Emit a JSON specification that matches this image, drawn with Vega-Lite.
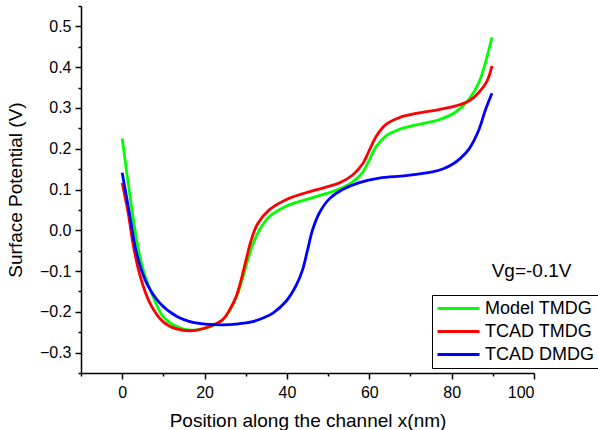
{
  "$schema": "https://vega.github.io/schema/vega-lite/v6.json",
  "width": 453,
  "height": 367,
  "autosize": "none",
  "padding": {"left": 81, "top": 6, "right": 64, "bottom": 57},
  "background": "white",
  "config": {
    "view": {"stroke": null},
    "font": "Liberation Sans",
    "axis": {
      "grid": false,
      "domainColor": "black",
      "domainWidth": 1.5,
      "tickColor": "black",
      "tickWidth": 1.5,
      "labelColor": "black",
      "labelFontSize": 16,
      "titleColor": "black",
      "titleFontSize": 19,
      "titleFontWeight": "normal"
    }
  },
  "resolve": {"axis": {"x": "independent", "y": "independent"}},
  "layer": [
    {
      "data": {
        "values": [
          {"series": "Model TMDG", "x": 0, "y": 0.225},
          {"series": "Model TMDG", "x": 1, "y": 0.15},
          {"series": "Model TMDG", "x": 1.9, "y": 0.084},
          {"series": "Model TMDG", "x": 3.5, "y": -0.023},
          {"series": "Model TMDG", "x": 5.1, "y": -0.097},
          {"series": "Model TMDG", "x": 7.5, "y": -0.162},
          {"series": "Model TMDG", "x": 9.9, "y": -0.211},
          {"series": "Model TMDG", "x": 13.2, "y": -0.236},
          {"series": "Model TMDG", "x": 16.4, "y": -0.245},
          {"series": "Model TMDG", "x": 19, "y": -0.243},
          {"series": "Model TMDG", "x": 21.2, "y": -0.237},
          {"series": "Model TMDG", "x": 24.5, "y": -0.219},
          {"series": "Model TMDG", "x": 26.1, "y": -0.197},
          {"series": "Model TMDG", "x": 27.7, "y": -0.165},
          {"series": "Model TMDG", "x": 29, "y": -0.126},
          {"series": "Model TMDG", "x": 30.3, "y": -0.08},
          {"series": "Model TMDG", "x": 31.7, "y": -0.035},
          {"series": "Model TMDG", "x": 33.3, "y": 0.0},
          {"series": "Model TMDG", "x": 35.7, "y": 0.033},
          {"series": "Model TMDG", "x": 39.8, "y": 0.059},
          {"series": "Model TMDG", "x": 44.6, "y": 0.075},
          {"series": "Model TMDG", "x": 49.5, "y": 0.09},
          {"series": "Model TMDG", "x": 52.7, "y": 0.101},
          {"series": "Model TMDG", "x": 55.9, "y": 0.118},
          {"series": "Model TMDG", "x": 58.4, "y": 0.142},
          {"series": "Model TMDG", "x": 60, "y": 0.172},
          {"series": "Model TMDG", "x": 61.6, "y": 0.204},
          {"series": "Model TMDG", "x": 64, "y": 0.231},
          {"series": "Model TMDG", "x": 67.2, "y": 0.247},
          {"series": "Model TMDG", "x": 72.1, "y": 0.26},
          {"series": "Model TMDG", "x": 76.9, "y": 0.271},
          {"series": "Model TMDG", "x": 81, "y": 0.29},
          {"series": "Model TMDG", "x": 84.2, "y": 0.321},
          {"series": "Model TMDG", "x": 86.6, "y": 0.362},
          {"series": "Model TMDG", "x": 88.2, "y": 0.411},
          {"series": "Model TMDG", "x": 89.8, "y": 0.473},
          {"series": "TCAD TMDG", "x": 0, "y": 0.116},
          {"series": "TCAD TMDG", "x": 1.45, "y": 0.043},
          {"series": "TCAD TMDG", "x": 2.7, "y": -0.037},
          {"series": "TCAD TMDG", "x": 4.3, "y": -0.11},
          {"series": "TCAD TMDG", "x": 6.7, "y": -0.178},
          {"series": "TCAD TMDG", "x": 9.9, "y": -0.224},
          {"series": "TCAD TMDG", "x": 13.2, "y": -0.242},
          {"series": "TCAD TMDG", "x": 17.2, "y": -0.246},
          {"series": "TCAD TMDG", "x": 21.2, "y": -0.236},
          {"series": "TCAD TMDG", "x": 24.5, "y": -0.218},
          {"series": "TCAD TMDG", "x": 26.1, "y": -0.195},
          {"series": "TCAD TMDG", "x": 27.7, "y": -0.162},
          {"series": "TCAD TMDG", "x": 28.9, "y": -0.121},
          {"series": "TCAD TMDG", "x": 30.1, "y": -0.072},
          {"series": "TCAD TMDG", "x": 31.3, "y": -0.025},
          {"series": "TCAD TMDG", "x": 32.9, "y": 0.016},
          {"series": "TCAD TMDG", "x": 35.7, "y": 0.05},
          {"series": "TCAD TMDG", "x": 39.8, "y": 0.075},
          {"series": "TCAD TMDG", "x": 44.6, "y": 0.092},
          {"series": "TCAD TMDG", "x": 49.5, "y": 0.106},
          {"series": "TCAD TMDG", "x": 52.7, "y": 0.116},
          {"series": "TCAD TMDG", "x": 55.9, "y": 0.135},
          {"series": "TCAD TMDG", "x": 58.4, "y": 0.163},
          {"series": "TCAD TMDG", "x": 60, "y": 0.196},
          {"series": "TCAD TMDG", "x": 61.6, "y": 0.229},
          {"series": "TCAD TMDG", "x": 64, "y": 0.259},
          {"series": "TCAD TMDG", "x": 67.2, "y": 0.276},
          {"series": "TCAD TMDG", "x": 72.1, "y": 0.288},
          {"series": "TCAD TMDG", "x": 76.9, "y": 0.296},
          {"series": "TCAD TMDG", "x": 81, "y": 0.305},
          {"series": "TCAD TMDG", "x": 84.2, "y": 0.317},
          {"series": "TCAD TMDG", "x": 86.6, "y": 0.338},
          {"series": "TCAD TMDG", "x": 88.6, "y": 0.366},
          {"series": "TCAD TMDG", "x": 89.8, "y": 0.403},
          {"series": "TCAD DMDG", "x": 0, "y": 0.141},
          {"series": "TCAD DMDG", "x": 1.9, "y": 0.034},
          {"series": "TCAD DMDG", "x": 3.5, "y": -0.056},
          {"series": "TCAD DMDG", "x": 5.9, "y": -0.129},
          {"series": "TCAD DMDG", "x": 9.1, "y": -0.178},
          {"series": "TCAD DMDG", "x": 13.2, "y": -0.211},
          {"series": "TCAD DMDG", "x": 17.2, "y": -0.226},
          {"series": "TCAD DMDG", "x": 21.2, "y": -0.231},
          {"series": "TCAD DMDG", "x": 24.5, "y": -0.232},
          {"series": "TCAD DMDG", "x": 27.7, "y": -0.23},
          {"series": "TCAD DMDG", "x": 31.7, "y": -0.224},
          {"series": "TCAD DMDG", "x": 34.5, "y": -0.214},
          {"series": "TCAD DMDG", "x": 36.6, "y": -0.203},
          {"series": "TCAD DMDG", "x": 39.8, "y": -0.174},
          {"series": "TCAD DMDG", "x": 42.2, "y": -0.136},
          {"series": "TCAD DMDG", "x": 43.8, "y": -0.097},
          {"series": "TCAD DMDG", "x": 45, "y": -0.049},
          {"series": "TCAD DMDG", "x": 46.2, "y": 0.0},
          {"series": "TCAD DMDG", "x": 47.9, "y": 0.043},
          {"series": "TCAD DMDG", "x": 50.3, "y": 0.077},
          {"series": "TCAD DMDG", "x": 53.5, "y": 0.1},
          {"series": "TCAD DMDG", "x": 57.6, "y": 0.117},
          {"series": "TCAD DMDG", "x": 62.4, "y": 0.128},
          {"series": "TCAD DMDG", "x": 68.9, "y": 0.134},
          {"series": "TCAD DMDG", "x": 75.3, "y": 0.143},
          {"series": "TCAD DMDG", "x": 78, "y": 0.151},
          {"series": "TCAD DMDG", "x": 80.2, "y": 0.162},
          {"series": "TCAD DMDG", "x": 82.2, "y": 0.177},
          {"series": "TCAD DMDG", "x": 84.2, "y": 0.199},
          {"series": "TCAD DMDG", "x": 86.6, "y": 0.246},
          {"series": "TCAD DMDG", "x": 88.2, "y": 0.295},
          {"series": "TCAD DMDG", "x": 89.8, "y": 0.336}
        ]
      },
      "mark": {"type": "line", "strokeWidth": 2.8, "interpolate": "catmull-rom"},
      "encoding": {
        "x": {
          "field": "x",
          "type": "quantitative",
          "scale": {"domain": [-10, 100], "nice": false, "zero": false},
          "axis": {
            "orient": "bottom",
            "values": [0, 20, 40, 60, 80, 100],
            "tickSize": 6,
            "labelPadding": 5,
            "title": "Position along the channel x(nm)",
            "titlePadding": 11
          }
        },
        "y": {
          "field": "y",
          "type": "quantitative",
          "scale": {"domain": [-0.35, 0.55], "nice": false, "zero": false},
          "axis": {
            "orient": "left",
            "values": [-0.3, -0.2, -0.1, 0, 0.1, 0.2, 0.3, 0.4, 0.5],
            "format": ".1f",
            "tickSize": 6,
            "labelPadding": 4,
            "title": "Surface Potential (V)",
            "titlePadding": 14
          }
        },
        "color": {
          "field": "series",
          "type": "nominal",
          "sort": ["Model TMDG", "TCAD TMDG", "TCAD DMDG"],
          "scale": {
            "domain": ["Model TMDG", "TCAD TMDG", "TCAD DMDG"],
            "range": ["#00ff00", "#ff0000", "#0000ff"]
          },
          "legend": {
            "title": null,
            "orient": "none",
            "legendX": 351,
            "legendY": 289,
            "symbolType": "stroke",
            "symbolSize": 1764,
            "symbolStrokeWidth": 3,
            "labelFontSize": 18,
            "labelColor": "black",
            "labelOffset": 4,
            "strokeColor": "black",
            "fillColor": "white",
            "padding": 4,
            "rowPadding": 4,
            "clipHeight": 19
          }
        }
      }
    },
    {
      "data": {"values": [{"x": 99.4, "y": -0.101, "label": "Vg=-0.1V"}]},
      "mark": {"type": "text", "align": "center", "baseline": "middle", "fontSize": 19, "color": "black"},
      "encoding": {
        "x": {
          "field": "x",
          "type": "quantitative",
          "axis": {
            "orient": "bottom",
            "values": [-10, 10, 30, 50, 70, 90],
            "labels": false,
            "domain": false,
            "tickSize": 3,
            "title": null
          }
        },
        "y": {
          "field": "y",
          "type": "quantitative",
          "axis": {
            "orient": "left",
            "values": [-0.35, -0.25, -0.15, -0.05, 0.05, 0.15, 0.25, 0.35, 0.45, 0.55],
            "labels": false,
            "domain": false,
            "tickSize": 3,
            "title": null
          }
        },
        "text": {"field": "label"}
      }
    }
  ]
}
